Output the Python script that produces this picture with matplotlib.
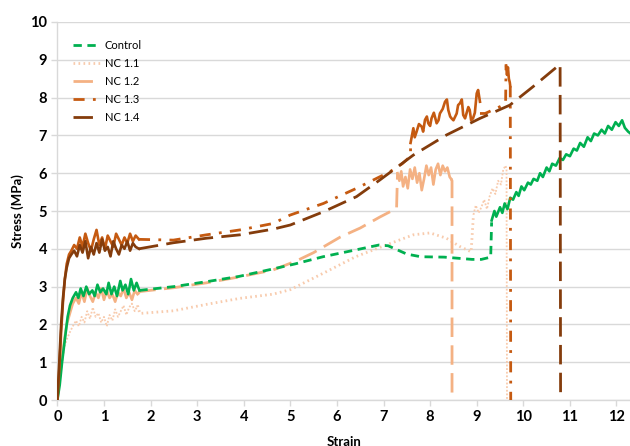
import matplotlib
matplotlib.use("Agg")
import matplotlib.pyplot as plt

plt.rcParams['font.family'] = ['Lato', 'DejaVu Sans']

# ---- Control ----
ctrl_n1_x = [0, 0.05, 0.1, 0.16, 0.22, 0.27, 0.33, 0.4, 0.45, 0.5, 0.56, 0.62, 0.68, 0.75, 0.8, 0.86,
             0.92, 0.98, 1.05, 1.1, 1.16, 1.22, 1.28, 1.35, 1.4, 1.46, 1.52, 1.58, 1.64, 1.7, 1.76]
ctrl_n1_y = [0, 0.4, 1.0, 1.6, 2.2, 2.5, 2.7, 2.85, 2.7, 2.95, 2.75, 3.0, 2.8, 2.9, 2.75, 3.05,
             2.85, 2.95, 2.8, 3.1, 2.8, 3.0, 2.75, 3.15, 2.9, 3.05, 2.8, 3.2, 2.9, 3.1, 2.9]
ctrl_s_x = [1.76, 2.5, 3.2, 3.9, 4.6, 5.1, 5.7, 6.4, 6.9, 7.1, 7.5, 7.8, 8.3, 8.9, 9.1, 9.3, 9.32]
ctrl_s_y = [2.9, 3.0, 3.13, 3.27, 3.46, 3.6, 3.79, 3.97, 4.1, 4.08, 3.86, 3.79, 3.78, 3.72, 3.72, 3.78, 4.7]
ctrl_n2_x = [9.32, 9.38, 9.42, 9.5, 9.55, 9.6, 9.66, 9.72, 9.78, 9.85, 9.9, 9.96, 10.02, 10.1, 10.16,
             10.22, 10.3, 10.36, 10.42, 10.5, 10.56, 10.62, 10.7, 10.78, 10.85, 10.92, 11.0, 11.08,
             11.15, 11.22, 11.3, 11.38, 11.45, 11.52, 11.6, 11.68, 11.75, 11.82, 11.9, 11.98, 12.05,
             12.12, 12.18, 12.25, 12.3]
ctrl_n2_y = [4.75, 5.0, 4.85, 5.1, 4.95, 5.2, 5.05, 5.35, 5.3, 5.5, 5.4, 5.65, 5.55, 5.75, 5.7,
             5.85, 5.8, 6.0, 5.9, 6.15, 6.05, 6.25, 6.2, 6.4, 6.35, 6.5, 6.45, 6.65,
             6.6, 6.8, 6.7, 6.95, 6.85, 7.05, 7.0, 7.15, 7.05, 7.25, 7.15, 7.35, 7.25,
             7.4, 7.2, 7.1, 7.05]

# ---- NC 1.1 ----
n11_n1_x = [0, 0.05, 0.1, 0.15, 0.2, 0.27, 0.33, 0.4, 0.46, 0.52, 0.58, 0.64, 0.7, 0.76, 0.82,
            0.88, 0.94, 1.0, 1.06, 1.12, 1.18, 1.24, 1.3, 1.36, 1.42, 1.48, 1.54, 1.6, 1.66, 1.72]
n11_n1_y = [0, 0.5, 1.0, 1.4, 1.6, 1.8, 1.95, 2.1, 1.95, 2.2, 2.05, 2.35, 2.15, 2.45, 2.2,
            2.3, 2.05, 2.2, 1.95, 2.25, 2.1, 2.4, 2.2, 2.35, 2.5, 2.25, 2.45, 2.55, 2.35, 2.5]
n11_s_x = [1.72, 1.77, 2.49, 3.2, 3.92, 4.63, 5.0, 5.7, 6.4, 7.14, 7.64, 8.0, 8.35, 8.64, 8.88, 8.93]
n11_s_y = [2.5, 2.29, 2.36, 2.53, 2.69, 2.8, 2.92, 3.35, 3.79, 4.14, 4.37, 4.42, 4.28, 4.06, 3.92, 4.9]
n11_n2_x = [8.93, 8.98, 9.04, 9.1, 9.16, 9.22, 9.28, 9.34, 9.4, 9.46, 9.52, 9.57, 9.62, 9.64, 9.65]
n11_n2_y = [4.9, 5.15, 4.95, 5.1, 5.3, 5.05, 5.4, 5.6, 5.45, 5.8, 5.7, 6.1, 6.2, 6.1, 0]

# ---- NC 1.2 ----
n12_n1_x = [0, 0.05, 0.1, 0.15, 0.2, 0.27, 0.33, 0.4, 0.46, 0.52, 0.58, 0.64, 0.7, 0.76, 0.82,
            0.88, 0.94, 1.0, 1.06, 1.12, 1.18, 1.24, 1.3, 1.36, 1.42, 1.48, 1.54, 1.6, 1.66, 1.72]
n12_n1_y = [0, 0.6, 1.1, 1.6, 2.0, 2.3, 2.55, 2.7, 2.55, 2.85, 2.6, 2.95, 2.75, 2.6, 2.85,
            2.7, 2.95, 2.65, 2.9, 2.7, 2.8, 2.6, 2.85, 2.75, 2.95, 2.7, 2.85, 2.65, 2.9, 2.8]
n12_s_x = [1.72, 1.77, 2.49, 3.2, 3.92, 4.63, 5.13, 5.5, 6.07, 6.5, 6.92, 7.28, 7.3]
n12_s_y = [2.8, 2.87, 2.97, 3.1, 3.26, 3.44, 3.68, 3.9, 4.31, 4.55, 4.84, 5.07, 6.0]
n12_n2_x = [7.3, 7.34, 7.38, 7.42, 7.47, 7.52, 7.57, 7.62, 7.67, 7.72, 7.77, 7.82, 7.87, 7.92,
            7.97, 8.02, 8.07, 8.12, 8.17, 8.22, 8.27, 8.32, 8.37, 8.42, 8.45]
n12_n2_y = [6.0, 5.8, 6.05, 5.65, 5.9, 5.6, 6.1, 5.85, 6.15, 5.75, 6.0, 5.55, 5.85, 6.2,
            5.95, 6.15, 5.7, 6.1, 6.25, 5.95, 6.2, 6.05, 6.15, 5.9, 5.85]
n12_d_x = [8.45, 8.47, 8.47]
n12_d_y = [5.85, 5.8, 0]

# ---- NC 1.3 ----
n13_n1_x = [0, 0.04, 0.08, 0.12, 0.16, 0.2, 0.25, 0.3, 0.36, 0.42, 0.48, 0.54, 0.6, 0.66, 0.72,
            0.78, 0.84, 0.9, 0.96, 1.02, 1.08, 1.14, 1.2, 1.26, 1.32, 1.38, 1.44, 1.5, 1.56, 1.62,
            1.68, 1.75]
n13_n1_y = [0, 0.8, 1.8, 2.6, 3.2, 3.6, 3.85, 3.95, 4.1, 4.0, 4.3, 4.05, 4.4, 4.15, 3.95,
            4.25, 4.5, 4.1, 4.3, 4.0, 4.35, 4.2, 4.05, 4.4, 4.25, 4.1, 4.3, 4.15, 4.4, 4.2,
            4.35, 4.25]
n13_s_x = [1.75, 2.49, 3.2, 3.92, 4.63, 4.99, 5.71, 6.42, 6.78, 7.14, 7.4, 7.58, 7.58]
n13_s_y = [4.25, 4.23, 4.37, 4.5, 4.67, 4.89, 5.2, 5.6, 5.82, 6.04, 6.25, 6.45, 6.8]
n13_n2_x = [7.58, 7.64, 7.67, 7.71, 7.76, 7.82, 7.85, 7.89, 7.93, 7.96, 8.0, 8.03, 8.08, 8.14,
            8.18, 8.21, 8.27, 8.32, 8.36, 8.39, 8.43, 8.46, 8.5, 8.57, 8.6, 8.64, 8.68, 8.71,
            8.75, 8.78, 8.82, 8.85, 8.88, 8.92, 8.96, 9.0, 9.03, 9.07]
n13_n2_y = [6.8, 7.19, 6.95, 7.1, 7.3, 7.23, 7.1, 7.41, 7.5, 7.32, 7.25, 7.45, 7.6, 7.32,
            7.4, 7.58, 7.7, 7.89, 7.95, 7.67, 7.5, 7.45, 7.4, 7.58, 7.8, 7.85, 7.95, 7.54,
            7.45, 7.58, 7.75, 7.67, 7.4, 7.45, 7.6, 8.11, 8.2, 7.89]
n13_s2_x = [9.07, 9.18, 9.5, 9.62, 9.63]
n13_s2_y = [7.58, 7.58, 7.76, 7.85, 8.85]
n13_n3_x = [9.63, 9.65, 9.67, 9.69, 9.71, 9.72]
n13_n3_y = [8.85, 8.6, 8.8, 8.5, 8.4, 8.3]
n13_d_x = [9.72, 9.73]
n13_d_y = [8.3, 0]

# ---- NC 1.4 ----
n14_n1_x = [0, 0.04, 0.08, 0.12, 0.16, 0.2, 0.25, 0.3, 0.36, 0.42, 0.48, 0.54, 0.6, 0.66, 0.72,
            0.78, 0.84, 0.9, 0.96, 1.02, 1.08, 1.14, 1.2, 1.26, 1.32, 1.38, 1.44, 1.5, 1.56, 1.62,
            1.68, 1.75]
n14_n1_y = [0, 1.0, 2.0, 2.7, 3.2, 3.5, 3.75, 3.85, 3.95, 3.8, 4.1, 3.9, 4.2, 3.75, 4.05,
            3.85, 4.15, 3.9, 4.25, 3.95, 4.05, 3.8, 4.2, 4.0, 3.85, 4.1, 4.0, 4.2, 3.95, 4.15,
            4.05, 4.0]
n14_s_x = [1.75, 2.49, 3.2, 3.92, 4.63, 5.0, 5.71, 6.42, 6.92, 7.64, 8.35, 9.07, 9.71, 10.21,
           10.64, 10.79, 10.8]
n14_s_y = [4.0, 4.16, 4.28, 4.37, 4.52, 4.63, 4.98, 5.38, 5.82, 6.48, 7.01, 7.45, 7.8, 8.29,
           8.73, 8.88, 0]

c_ctrl = '#00B050'
c_11 = '#F8CBAD'
c_12 = '#F4B183'
c_13 = '#C55A11'
c_14 = '#843C0C'

ls_ctrl = (0, (3, 2))
ls_11 = (0, (0.6, 1.2))
ls_12 = (0, (7, 3))
ls_13 = (0, (4, 3, 1, 3))
ls_14 = (0, (7, 3))

fig = plt.figure(figsize=(6.3, 4.46), dpi=100)
ax = fig.add_axes([0.0911, 0.1031, 0.9089, 0.8476])

lw = 2.0
nlw = 1.9

# Control
ax.plot(ctrl_n1_x, ctrl_n1_y, color=c_ctrl, lw=nlw, zorder=3)
ax.plot(ctrl_s_x, ctrl_s_y, color=c_ctrl, lw=lw, ls=ls_ctrl, label='Control', zorder=3)
ax.plot(ctrl_n2_x, ctrl_n2_y, color=c_ctrl, lw=nlw, zorder=3)

# NC 1.1
ax.plot(n11_n1_x, n11_n1_y, color=c_11, lw=1.3, ls=(0, (1, 1)), zorder=2)
ax.plot(n11_s_x, n11_s_y, color=c_11, lw=lw, ls=ls_11, label='NC 1.1', zorder=2)
ax.plot(n11_n2_x, n11_n2_y, color=c_11, lw=1.3, ls=(0, (1, 1)), zorder=2)

# NC 1.2
ax.plot(n12_n1_x, n12_n1_y, color=c_12, lw=nlw, zorder=2.5)
ax.plot(n12_s_x, n12_s_y, color=c_12, lw=lw, ls=ls_12, label='NC 1.2', zorder=2.5)
ax.plot(n12_n2_x, n12_n2_y, color=c_12, lw=nlw, zorder=2.5)
ax.plot(n12_d_x, n12_d_y, color=c_12, lw=lw, ls=ls_12, zorder=2.5)

# NC 1.3
ax.plot(n13_n1_x, n13_n1_y, color=c_13, lw=nlw, zorder=4)
ax.plot(n13_s_x, n13_s_y, color=c_13, lw=lw, ls=ls_13, label='NC 1.3', zorder=4)
ax.plot(n13_n2_x, n13_n2_y, color=c_13, lw=nlw, zorder=4)
ax.plot(n13_s2_x, n13_s2_y, color=c_13, lw=lw, ls=ls_13, zorder=4)
ax.plot(n13_n3_x, n13_n3_y, color=c_13, lw=nlw, zorder=4)
ax.plot(n13_d_x, n13_d_y, color=c_13, lw=lw, ls=ls_13, zorder=4)

# NC 1.4
ax.plot(n14_n1_x, n14_n1_y, color=c_14, lw=nlw, zorder=5)
ax.plot(n14_s_x, n14_s_y, color=c_14, lw=lw, ls=ls_14, label='NC 1.4', zorder=5)

ax.set_xlim(0, 12.29)
ax.set_ylim(0, 10)
ax.set_xticks(range(0, 13))
ax.set_yticks(range(0, 11))
ax.yaxis.grid(True, color='#D9D9D9', lw=1)
ax.set_axisbelow(True)
for s in ['top', 'right']:
    ax.spines[s].set_visible(False)
for s in ['left', 'bottom']:
    ax.spines[s].set_color('#D9D9D9')
    ax.spines[s].set_linewidth(1)
ax.tick_params(axis='both', colors='#D9D9D9', length=4, width=1)
for lab in ax.get_xticklabels() + ax.get_yticklabels():
    lab.set_color('black')
    lab.set_fontweight('bold')
    lab.set_fontsize(10.5)

ax.set_xlabel('Strain', fontsize=9.5, fontweight='bold', labelpad=8)
ax.set_ylabel('Stress (MPa)', fontsize=9.5, fontweight='bold', labelpad=4)

leg = ax.legend(loc='upper left', bbox_to_anchor=(0.028, 0.952), frameon=False,
                fontsize=8, handlelength=2.4, handletextpad=0.4, labelspacing=0.62,
                borderaxespad=0, borderpad=0)

fig.savefig('out.png', dpi=100)
